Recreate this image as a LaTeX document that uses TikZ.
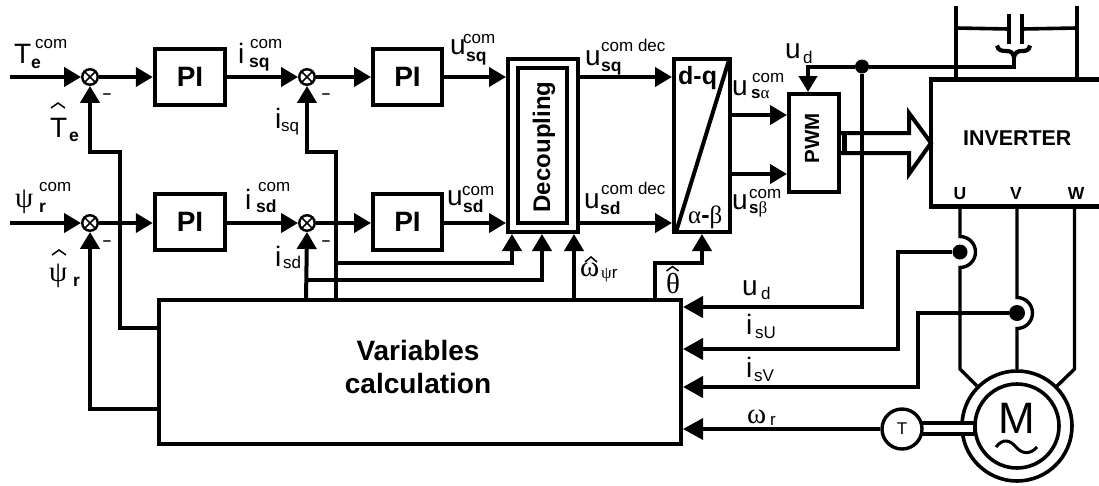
\documentclass[tikz,border=0pt]{standalone}
\usepackage{fontspec}
\setmainfont{Liberation Sans}
\newfontfamily\gk{Liberation Serif}
\usetikzlibrary{arrows.meta}
\newcommand\fz[1]{\fontsize{#1}{#1}\selectfont}
\tikzset{
  x=1pt,y=-1pt,
  wire/.style={line width=4pt,line join=miter},
  thin wire/.style={line width=3.4pt},
  tipA/.style={-{Triangle[length=17pt,width=19pt]}},
  tipB/.style={-{Triangle[length=20pt,width=21pt]}},
  boxn/.style={draw,line width=4pt,inner sep=0pt,fill=white},
  sumn/.style={circle,draw,line width=2.4pt,fill=white,minimum size=15.5pt,inner sep=0pt},
  dotn/.style={circle,fill=black,inner sep=0pt},
  txt/.style={inner sep=0pt,anchor=base west},
  big/.style={txt,font=\fz{28}},
  gbig/.style={txt,font=\fz{29}\gk},
  sm/.style={txt,font=\fz{17}},
  bsm/.style={txt,font=\fz{17.5}\bfseries},
  hat/.style={line width=1.5pt,line join=miter},
}
\begin{document}
\begin{tikzpicture}
\useasboundingbox (0,0) rectangle (1099,485);
% boxes
\node[boxn,minimum width=70.5pt,minimum height=56.5pt,font=\fz{28}\bfseries] (pi1) at (190,77) {PI};
\node[boxn,minimum width=70.5pt,minimum height=56pt,font=\fz{28}\bfseries] (pi3) at (190,222) {PI};
\node[boxn,minimum width=69pt,minimum height=56.5pt,font=\fz{28}\bfseries] (pi2) at (407.5,77) {PI};
\node[boxn,minimum width=69pt,minimum height=56pt,font=\fz{28}\bfseries] (pi4) at (407.5,222) {PI};
\node[boxn,minimum width=70pt,minimum height=173pt] (dec) at (543,145.5) {};
\node[boxn,minimum width=49pt,minimum height=155pt] (deci) at (542.5,145.5) {};
\node[rotate=90,inner sep=0pt,font=\fz{24}\bfseries] (dect) at (544,147) {Decoupling};
\node[boxn,minimum width=56pt,minimum height=173pt] (dq) at (702,145.5) {};
\draw[line width=4pt] (729,60) -- (676,232);
\node[boxn,minimum width=50pt,minimum height=98pt] (pwm) at (814,143) {};
\node[boxn,minimum width=522pt,minimum height=144pt] (calc) at (420,372) {};
\node[inner sep=0pt,font=\fz{28}\bfseries] (calct1) at (418,350) {Variables};
\node[inner sep=0pt,font=\fz{28}\bfseries] (calct2) at (418,383) {calculation};
% inverter, open to the right
\node[inner sep=0pt,outer sep=0pt,minimum width=168pt,minimum height=127pt] (inv) at (1015,143) {};
\draw[line width=4.5pt] (inv.north east) -- (inv.north west) -- (inv.south west) -- (inv.south east);
% summers
\foreach \n/\x/\y in {sum1/90/77,sum2/90/223,sum3/307/77,sum4/307/223}{
  \node[sumn] (\n) at (\x,\y) {};
  \draw[line width=1.6pt] (\n.45) -- (\n.225) (\n.135) -- (\n.315);
}
% free ends
\coordinate (inT) at (10,77);
\coordinate (inP) at (10,223);
\coordinate (fbT) at (159,328);
\coordinate (fbP) at (159,409);
\coordinate (calcA) at (336,300);
\coordinate (calcB) at (306,300);
\coordinate (calcW) at (574,300);
\coordinate (calcH) at (655,300);
\coordinate (decA) at (512,234);
\coordinate (decB) at (542,234);
\coordinate (decW) at (574,234);
\coordinate (dqH) at (702,234);
\coordinate (pwmU) at (808,92);
% forward path
\draw[wire,tipA] (inT) -- (sum1);
\draw[wire,tipA] (sum1) -- (pi1);
\draw[wire,tipA] (pi1) -- (sum3);
\draw[wire,tipA] (sum3) -- (pi2);
\draw[wire,tipA] (pi2.east) -- (pi2.east -| dec.west);
\draw[wire,tipA] (inP) -- (sum2);
\draw[wire,tipA] (sum2) -- (sum2 -| pi3.west);
\draw[wire,tipA] (sum2 -| pi3.east) -- (sum4);
\draw[wire,tipA] (sum4) -- (sum4 -| pi4.west);
\draw[wire,tipA] (sum4 -| pi4.east) -- (sum4 -| dec.west);
\draw[wire,tipA] (pi2.east -| dec.east) -- (pi2.east -| dq.west);
\draw[wire,tipA] (sum4 -| dec.east) -- (sum4 -| dq.west);
\draw[wire,tipA] (dq.east |- 0,115) -- (pwm.west |- 0,115);
\draw[wire,tipA] (dq.east |- 0,174) -- (pwm.west |- 0,174);
% feedback
\draw[wire,tipA] (fbT) -- (119.5,328) -- (119.5,152) -- (90,152) -- (sum1.south);
\draw[wire,tipA] (fbP) -- (90,409) -- (sum2.south);
\draw[wire,tipA] (calcA) -- (336,152) -- (307,152) -- (sum3.south);
\draw[wire,tipA] (calcB) -- (sum4.south);
\draw[wire,tipA] (336,263) -- (512,263) -- (decA);
\draw[wire,tipA] (307,280) -- (542,280) -- (decB);
\draw[wire,tipA] (calcW) -- (decW);
\draw[wire,tipA] (calcH) -- (655,263) -- (702,263) -- (dqH);
% DC link
\node[dotn,minimum size=14pt] (dotd) at (862,66.5) {};
\coordinate (ud) at (862,307);
\draw[wire] (dotd) -- (1014,66.5) -- (1014,55);
\draw[wire,-{Triangle[length=16pt,width=18pt]}] (dotd) -- (808,66.5) -- (pwmU);
\draw[wire,line width=3.6pt] (956,6) -- (956,79);
\draw[wire,line width=3.6pt] (1077,6) -- (1077,79);
\node[inner sep=0pt,minimum width=13pt,minimum height=30pt] (cap) at (1015.5,29) {};
\draw[line width=3.6pt] (956,28) -- (cap.west) (cap.east) -- (1077,28);
\draw[line width=4pt] (cap.north west) -- (cap.south west) (cap.north east) -- (cap.south east);
\draw[line width=4.2pt] (997,45.5) .. controls (998,50.5) and (1002,51) .. (1006,51)
  .. controls (1010,51) and (1013,52) .. (1014,57)
  .. controls (1015,52) and (1018,51) .. (1022,51)
  .. controls (1026,51) and (1029,50.5) .. (1030,45.5);
% PWM to inverter hollow arrow
\draw[line width=4pt,line join=miter] (pwm.east |- 0,133) -- (909,133) -- (909,113) -- (inv.west) -- (909,174) -- (909,153) -- (pwm.east |- 0,153);
\draw[line width=5pt] (844,131) -- (844,155);
% measured signals
\draw[wire,tipB] (dotd) -- (ud) -- (ud -| calc.east);
\node[dotn,minimum size=15pt] (dotU) at (960,252) {};
\node[dotn,minimum size=16pt] (dotV) at (1017,313) {};
\coordinate (isU) at (898,349);
\coordinate (isV) at (918,387);
\draw[wire,tipB] (dotU) -- (898,252) -- (isU) -- (isU -| calc.east);
\draw[wire,tipB] (dotV) -- (918,313) -- (isV) -- (isV -| calc.east);
% motor
\node[circle,draw,line width=3.6pt,fill=white,minimum size=110pt,inner sep=0pt] (mot) at (1017,426) {};
\coordinate (tU) at (960,208);
\coordinate (tV) at (1017,208);
\coordinate (tW) at (1074.5,208);
\coordinate (lW) at (1074.5,369);
\draw[thin wire] (tU) -- (960,236.5) arc[start angle=-90,end angle=90,radius=15.5] -- (960,369) -- (mot.135);
\draw[thin wire] (tV) -- (1017,297.5) arc[start angle=-90,end angle=90,radius=15.5] -- (mot.north);
\draw[thin wire] (tW) -- (lW) -- (mot.45);
\node[draw,line width=3.4pt,fill=white,inner sep=0pt,minimum width=54pt,minimum height=11pt] (shaft) at (948,428.5) {};
\node[circle,draw,line width=3.6pt,fill=white,minimum size=84pt,inner sep=0pt] (moti) at (1017,426) {};
\node[txt,font=\fz{44},anchor=base] (mM) at (1017,433) {M};
\draw[line width=3pt] (996,447) .. controls (1003,438) and (1010,440) .. (1016,447) .. controls (1022,454) and (1030,455) .. (1037,447);
\node[circle,draw,line width=3.4pt,fill=white,minimum size=40pt,inner sep=0pt,font=\fz{17}] (tacho) at (902,429) {T};
\draw[line width=3.4pt,tipB] (tacho) -- (tacho -| calc.east);
% labels
\node[big] (a1) at (14,63) {T};
\node[sm] (a2) at (35,48) {com};
\node[bsm] (a3) at (31,68) {e};
\node[big] (b1) at (238,63) {i};
\node[sm] (b2) at (250,48) {com};
\node[bsm] (b3) at (249,67) {sq};
\node[big] (c1) at (275,128) {i};
\node[sm] (c2) at (281,131) {sq};
\node[big] (d1) at (50,137) {T};
\node[bsm] (d2) at (69,141) {e};
\draw[hat] (51,108) -- (58,103) -- (65,108);
\node[gbig] (e1) at (15,207) {ψ};
\node[sm] (e2) at (39,191) {com};
\node[bsm] (e3) at (39,212) {r};
\node[big] (f1) at (245,209) {i};
\node[sm] (f2) at (258,191) {com};
\node[bsm] (f3) at (256,212) {sd};
\node[gbig] (g1) at (49,281) {ψ};
\node[bsm] (g2) at (73,286) {r};
\draw[hat] (52,255) -- (59,250) -- (66,255);
\node[big] (h1) at (275,266) {i};
\node[sm] (h2) at (283,268) {sd};
\node[big] (i1) at (450,54) {u};
\node[sm] (i2) at (463,43) {com};
\node[bsm] (i3) at (466,61) {sq};
\node[big] (j1) at (447,205) {u};
\node[sm] (j2) at (462,195) {com};
\node[bsm] (j3) at (463,212) {sd};
\node[big] (k1) at (585,65) {u};
\node[sm] (k2) at (601,51) {com dec};
\node[bsm] (k3) at (601,71) {sq};
\node[big] (l1) at (584,208) {u};
\node[sm] (l2) at (601,194) {com dec};
\node[bsm] (l3) at (600,214) {sd};
\node[txt,font=\fz{25}\bfseries] (m1) at (678,84) {d-q};
\node[txt,font=\fz{25}] (m2) at (688,223) {{\gk α}\textbf{-}{\gk β}};
\node[big] (n1) at (732,95) {u};
\node[sm] (n2) at (752,82) {com};
\node[sm] (n3) at (751,98) {\textbf{s}{\gk α}};
\node[big] (o1) at (732,209) {u};
\node[sm] (o2) at (749,198) {com};
\node[sm] (o3) at (749,213) {\textbf{s}{\gk β}};
\node[big] (p1) at (785,58) {u};
\node[sm] (p2) at (803,63) {d};
\node[rotate=90,inner sep=0pt,font=\fz{20.5}\bfseries] (pwmt) at (812,138) {PWM};
\node[txt,font=\fz{21.4}\bfseries] (invt) at (963,145) {INVERTER};
\node[bsm,anchor=base] (uu) at (960,199) {U};
\node[bsm,anchor=base] (vv) at (1016,199) {V};
\node[bsm,anchor=base] (ww) at (1076,199) {W};
\node[gbig] (q1) at (580,276) {ω};
\node[sm] (q2) at (601,278) {{\gk ψ}r};
\draw[hat] (585,262) -- (591,257) -- (597,262);
\node[gbig] (r1) at (666,293) {θ};
\draw[hat] (666.5,271) -- (672.5,266.5) -- (678.5,271);
\node[big] (s1) at (742,295) {u};
\node[sm] (s2) at (761,299) {d};
\node[big] (t1) at (746,334) {i};
\node[sm] (t2) at (755,338) {sU};
\node[big] (u1) at (746,377) {i};
\node[sm] (u2) at (754,381) {sV};
\node[gbig] (v1) at (747,423) {ω};
\node[sm] (v2) at (770,425) {r};
\foreach \n/\x/\y in {mA/107/96,mB/326/96,mC/107/243,mD/326/243}
  \node[inner sep=0pt,font=\fz{15}\bfseries] (\n) at (\x,\y) {–};
\end{tikzpicture}
\end{document}
